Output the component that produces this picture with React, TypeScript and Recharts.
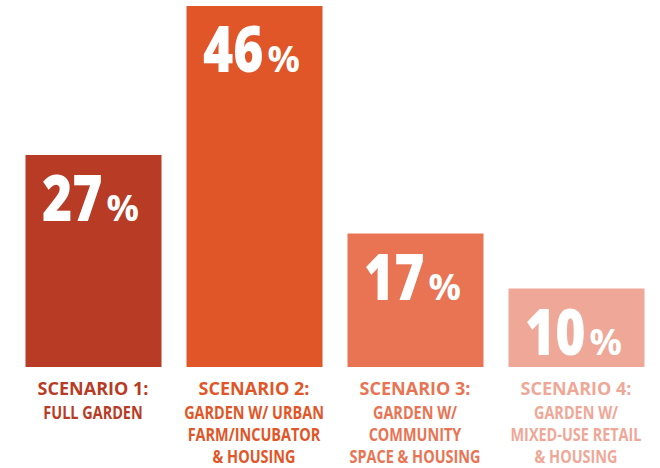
import React from "react";
import { BarChart, Bar, XAxis, YAxis, Cell, LabelList } from "recharts";

const scenarios = ["SCENARIO 1:", "SCENARIO 2:", "SCENARIO 3:", "SCENARIO 4:"];
const descriptions = [
  ["FULL GARDEN"],
  ["GARDEN W/ URBAN", "FARM/INCUBATOR", "& HOUSING"],
  ["GARDEN W/", "COMMUNITY", "SPACE & HOUSING"],
  ["GARDEN W/", "MIXED-USE RETAIL", "& HOUSING"],
];
const values = [27, 46, 17, 10];
const colors = ["#B83B25", "#E05628", "#E87454", "#EFA797"];

const data = scenarios.map((s, i) => ({ name: s, idx: i, value: values[i] }));

const FONT = "'Open Sans', 'Noto Sans', sans-serif";

const Tick = (props: any) => {
  const { x, y, payload } = props;
  const i = payload.index;
  const lines = descriptions[i];
  return (
    <g>
      <g transform={`translate(${x}, ${y + 28}) scale(1.03, 1)`}>
        <text x={0} y={0} textAnchor="middle" fill={colors[i]} fontFamily={FONT} fontWeight={700} fontSize={17.5}>
          {scenarios[i]}
        </text>
      </g>
      {lines.map((l, k) => (
        <g key={k} transform={`translate(${x}, ${y + 52 + k * 22}) scale(0.85, 1)`}>
          <text x={0} y={0} textAnchor="middle" fill={colors[i]} fontFamily={FONT} fontWeight={700} fontSize={17}>
            {l}
          </text>
        </g>
      ))}
    </g>
  );
};

const PctLabel = (props: any) => {
  const { x, y, width, value } = props;
  const cx = x + width / 2;
  const by = y + 66;
  return (
    <g fill="#FFFFFF" fontFamily={FONT} fontWeight={800}>
      <g transform={`translate(${cx + 9}, ${by}) scale(0.82, 1)`}>
        <text x={0} y={0} textAnchor="end" fontSize={63}>{value}</text>
      </g>
      <g transform={`translate(${cx + 13}, ${by})`}>
        <text x={0} y={0} textAnchor="start" fontSize={36} fontWeight={700}>%</text>
      </g>
    </g>
  );
};

export default function App() {
  return (
    <div style={{ position: "absolute", left: 0, top: 0, width: 660, height: 468, background: "#fff" }}>
      <BarChart width={660} height={468} data={data} margin={{ top: 6, right: 3.5, bottom: 0, left: 12.5 }} barSize={136}>
        <YAxis hide domain={[0, 46]} />
        <XAxis
          dataKey="name"
          axisLine={false}
          tickLine={false}
          tickSize={0}
          tickMargin={0}
          height={101}
          interval={0}
          tick={<Tick />}
        />
        <Bar dataKey="value" isAnimationActive={false}>
          {data.map((d, i) => (
            <Cell key={i} fill={colors[i]} />
          ))}
          <LabelList dataKey="value" content={<PctLabel />} />
        </Bar>
      </BarChart>
    </div>
  );
}
